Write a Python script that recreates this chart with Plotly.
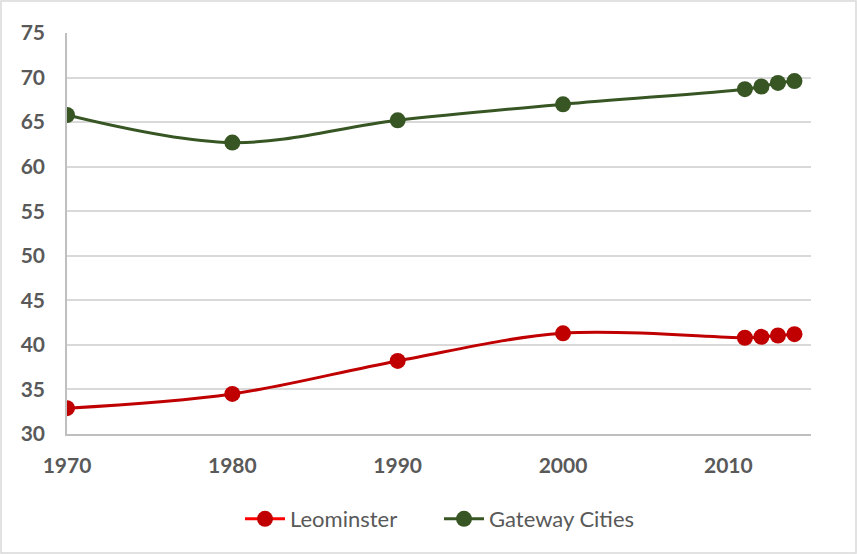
import plotly.graph_objects as go

years = [1970, 1980, 1990, 2000, 2011, 2012, 2013, 2014]
leominster = [32.9, 34.5, 38.2, 41.3, 40.8, 40.9, 41.05, 41.2]
gateway = [65.8, 62.7, 65.2, 67.0, 68.7, 69.0, 69.4, 69.6]
x_ticks = [1970, 1980, 1990, 2000, 2010]
y_ticks = [30, 35, 40, 45, 50, 55, 60, 65, 70, 75]

RED = "#C00000"
GREEN = "#375623"
W, H = 857, 554
ML, MR, MT, MB = 67, 46, 33, 120
pw, ph = W - ML - MR, H - MT - MB

fig = go.Figure()
fig.add_trace(go.Scatter(x=years, y=leominster, mode="lines+markers", name="Leominster",
                         line=dict(color=RED, width=3, shape="spline"),
                         marker=dict(color=RED, size=16), showlegend=False))
fig.add_trace(go.Scatter(x=years, y=gateway, mode="lines+markers", name="Gateway Cities",
                         line=dict(color=GREEN, width=3, shape="spline"),
                         marker=dict(color=GREEN, size=16), showlegend=False))
# legend entries
fig.add_trace(go.Scatter(x=[None], y=[None], mode="lines+markers", name="Leominster",
                         line=dict(color="#FF0000", width=3),
                         marker=dict(color=RED, size=16)))
fig.add_trace(go.Scatter(x=[None], y=[None], mode="lines+markers", name="Gateway Cities",
                         line=dict(color=GREEN, width=3),
                         marker=dict(color=GREEN, size=16)))

tick_font = dict(size=21, family="Lato", color="#595959", weight="bold")
fig.update_layout(
    width=W, height=H,
    margin=dict(l=ML, r=MR, t=MT, b=MB),
    paper_bgcolor="white", plot_bgcolor="white",
    font=dict(family="Lato, Open Sans, sans-serif", color="#595959"),
    xaxis=dict(range=[1970, 2015], tickvals=x_ticks, ticktext=[str(t) for t in x_ticks],
               showgrid=False, zeroline=False, showline=True, linecolor="#bfbfbf", linewidth=1.5,
               tickfont=tick_font, ticks="", ticklabelstandoff=12),
    yaxis=dict(range=[30, 75], tickvals=y_ticks, showgrid=True, gridcolor="#d9d9d9", gridwidth=1.5,
               zeroline=False, showline=True, linecolor="#bfbfbf", linewidth=1.5,
               tickfont=tick_font, ticks="", ticklabelstandoff=16),
    legend=dict(orientation="h", x=0.5, xanchor="center", y=-(519 - 434) / ph, yanchor="middle",
                font=dict(size=22, family="Lato", color="#595959"), itemwidth=40,
                entrywidth=144, entrywidthmode="pixels", traceorder="normal"),
    shapes=[dict(type="rect", xref="paper", yref="paper",
                 x0=(1 - ML) / pw, x1=(W - 1 - ML) / pw,
                 y0=-(H - 1 - MT - ph) / ph, y1=(MT - 1) / ph + 1,
                 line=dict(color="#d9d9d9", width=1.5), layer="below")],
)
fig.write_html("out.html", config={"displayModeBar": False},
               post_script="document.body.style.margin='0';")
